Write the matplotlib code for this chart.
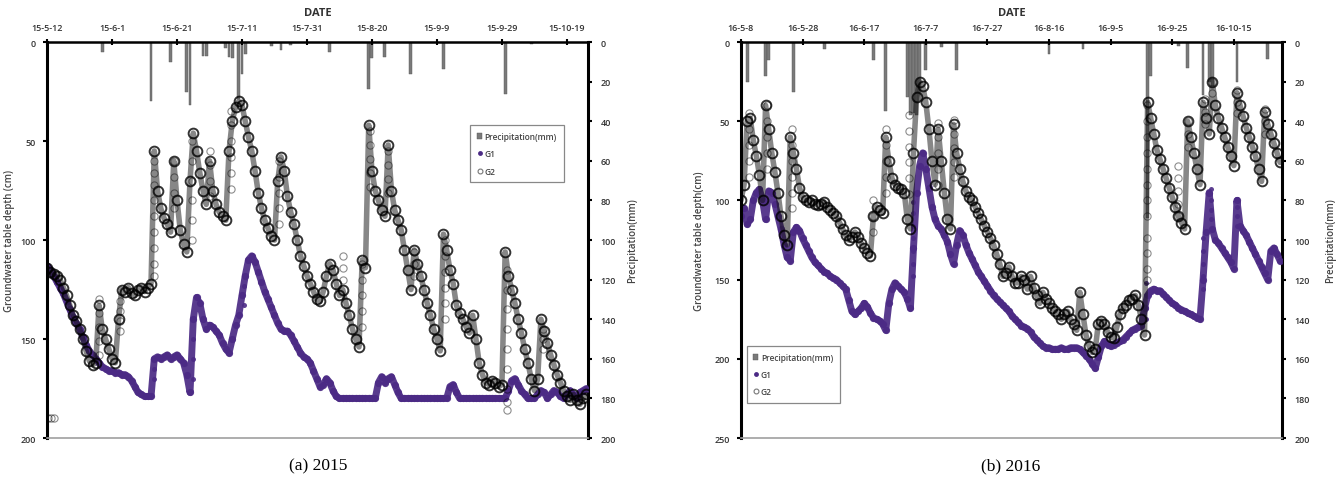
import matplotlib.pyplot as plt
import matplotlib.dates as mdates
from matplotlib.lines import Line2D
from matplotlib.patches import Patch
from matplotlib.ticker import FixedLocator, FuncFormatter
import numpy as np
import pandas as pd

plt.rcParams['font.family'] = ['Open Sans', 'DejaVu Sans']

# ---------------- 2015 (daily readings from 15-5-12) ----------------
START_2015 = '2015-05-12'
END_DAY_2015 = 166.5
G1_2015 = [
    113, 115, 118, 121, 124, 127, 131, 135, 139, 142,
    145, 149, 153, 156, 158, 160, 162, 164, 165, 166,
    166, 167, 167, 168, 168, 169, 171, 174, 177, 178,
    179, 179, 179, 160, 159, 160, 159, 158, 160, 159,
    158, 160, 162, 168, 177, 140, 129, 132, 140, 145,
    143, 144, 146, 148, 152, 155, 157, 150, 143, 138,
    128, 118, 110, 108, 111, 116, 121, 126, 130, 134,
    138, 142, 145, 146, 146, 148, 151, 154, 157, 159,
    160, 162, 166, 170, 174, 173, 170, 172, 176, 179,
    180, 180, 180, 180, 180, 180, 180, 180, 180, 180,
    180, 180, 172, 169, 172, 170, 169, 173, 177, 180,
    180, 180, 180, 180, 180, 180, 180, 180, 180, 180,
    180, 180, 180, 180, 174, 173, 177, 180, 180, 180,
    180, 180, 180, 180, 180, 180, 180, 180, 180, 180,
    180, 180, 176, 171, 170, 173, 176, 178, 180, 180,
    180, 178, 176, 177, 180, 178, 176, 177, 179, 180,
    178, 176, 178, 180, 177, 176, 175,
]
G2_2015 = [
    114, 116, 117, 118, 120, 124, 128, 133, 138, 141,
    145, 150, 156, 161, 163, 162, 133, 145, 150, 155,
    160, 162, 140, 125, 126, 124, 127, 128, 125, 124,
    126, 124, 122, 55, 75, 84, 89, 92, 96, 60,
    80, 95, 102, 106, 70, 46, 55, 66, 75, 82,
    60, 75, 82, 86, 88, 90, 55, 40, 33, 30,
    32, 40, 48, 55, 65, 76, 84, 90, 94, 98,
    100, 70, 58, 65, 78, 86, 92, 100, 108, 113,
    118, 122, 126, 130, 131, 126, 118, 112, 115, 122,
    128, 125, 132, 138, 145, 150, 154, 110, 114, 42,
    65, 75, 80, 85, 88, 52, 75, 85, 90, 95,
    105, 115, 125, 105, 112, 118, 125, 132, 138, 145,
    150, 156, 97, 105, 115, 122, 133, 137, 140, 144,
    147, 138, 150, 162, 168, 172, 173, 171, 172, 174,
    173, 106, 118, 125, 132, 140, 147, 155, 162, 170,
    176, 170, 140, 146, 152, 158, 163, 168, 172, 176,
    179, 181, 178, 181, 183, 180, 178,
]
# extra readings during fast water-table rises (day, depths)
G1_2015_RISE_DAY = [33, 45, 60.5]
G1_2015_RISE_CM = [[170, 165], [170, 160, 150], [133, 123]]
G2_2015_RISE_DAY = [16, 22.5, 33, 39, 44.5, 50, 56.5, 71.5, 91, 97, 99.5, 105,
                    113, 122.5, 141.5, 152.5, 0.3, 1.2, 2.1]
G2_2015_RISE_CM = [[130, 137, 144, 151, 158], [131, 136, 141, 146],
                   [60, 66, 72, 80, 88, 96, 104, 112, 118], [60, 68, 76, 84],
                   [50, 60, 70, 80, 90, 100], [55, 62, 70, 78],
                   [35, 42, 50, 58, 66, 74], [60, 68, 76, 84, 92], [108, 114, 120],
                   [112, 120, 128, 136, 144], [45, 52, 59, 66, 73], [55, 62, 69, 76],
                   [106, 112, 118], [100, 108, 116, 124, 132, 140],
                   [115, 125, 135, 145, 155, 165, 175, 182, 186], [145, 150, 155],
                   [190], [190], [190]]
RAIN_2015_DAY = [17, 32, 38, 43, 44, 48, 49, 55, 56, 57, 59, 60, 61, 69, 72, 75,
                 87, 99, 100, 104, 112, 122, 141, 149]
RAIN_2015_MM = [5, 30, 10, 25, 32, 7, 7, 3, 7.5, 8, 29, 16, 6, 2, 4, 1.5,
                5, 23.5, 8, 7.7, 16, 13.7, 26, 1]

# ---------------- 2016 (daily readings from 16-5-8) ----------------
START_2016 = '2016-05-08'
END_DAY_2016 = 175.6
G1_2016 = [
    110, 105, 115, 112, 100, 95, 93, 100, 112, 94,
    95, 102, 110, 118, 128, 136, 138, 120, 117, 119,
    124, 128, 132, 136, 139, 141, 143, 145, 146, 148,
    149, 150, 152, 154, 156, 163, 170, 172, 170, 168,
    165, 167, 171, 174, 175, 176, 178, 182, 165, 156,
    152, 154, 156, 158, 162, 168, 130, 95, 78, 70,
    80, 92, 104, 112, 116, 118, 122, 126, 134, 140,
    128, 119, 122, 128, 133, 137, 141, 145, 148, 151,
    154, 157, 160, 162, 164, 166, 168, 170, 173, 175,
    177, 179, 180, 181, 183, 186, 188, 190, 192, 193,
    193, 194, 194, 194, 193, 194, 194, 193, 193, 193,
    194, 196, 198, 200, 203, 206, 199, 192, 189, 191,
    192, 191, 190, 189, 188, 186, 184, 182, 181, 180,
    179, 168, 160, 157, 156, 157, 157, 159, 161, 163,
    165, 166, 168, 169, 170, 171, 172, 173, 174, 175,
    150, 120, 95, 118, 125, 127, 130, 133, 136, 139,
    143, 100, 116, 119, 122, 126, 130, 134, 138, 142,
    146, 150, 132, 130, 134, 138,
]
G2_2016 = [
    100, 90, 50, 48, 62, 72, 84, 100, 40, 55,
    70, 82, 95, 110, 122, 128, 60, 70, 80, 92,
    98, 100, 101, 100, 102, 103, 102, 101, 104, 106,
    108, 110, 114, 118, 122, 125, 123, 120, 123, 127,
    130, 133, 135, 110, 104, 106, 108, 60, 75, 86,
    90, 92, 93, 95, 112, 118, 70, 35, 25, 28,
    38, 55, 75, 90, 55, 75, 95, 112, 118, 52,
    70, 80, 88, 94, 98, 100, 104, 108, 112, 116,
    120, 124, 128, 134, 140, 148, 146, 142, 148, 152,
    152, 148, 150, 156, 148, 155, 160, 165, 158, 162,
    165, 168, 170, 172, 175, 172, 170, 175, 178, 182,
    158, 172, 185, 192, 196, 194, 178, 176, 178, 183,
    186, 187, 180, 172, 168, 166, 163, 162, 160, 166,
    175, 185, 38, 48, 58, 68, 74, 80, 86, 92,
    98, 104, 110, 114, 118, 50, 60, 70, 80, 90,
    38, 48, 58, 25, 40, 48, 54, 60, 66, 72,
    78, 32, 40, 47, 54, 60, 66, 72, 80, 88,
    44, 52, 58, 64, 70, 76,
]
G1_2016_RISE_DAY = [56, 131.5, 150, 152.5, 161]
G1_2016_RISE_CM = [[148, 140, 132, 124, 116, 108, 101], [175, 168, 160, 152],
                   [156, 148, 140, 132, 124], [93, 100, 106, 112, 118],
                   [99, 104, 110, 116]]
G2_2016_RISE_DAY = [2.5, 8.4, 16.5, 43, 47, 54.5, 64, 69, 131.8, 142, 145,
                    150.5, 153, 161, 170]
G2_2016_RISE_CM = [[45, 55, 65, 75, 85], [40, 50, 60, 70, 80], [55, 65, 75, 85, 95, 105],
                   [100, 110, 120], [55, 65, 75, 85, 95], [46, 56, 66, 76, 86, 96],
                   [51, 60, 70, 80, 90], [49, 58, 67, 76, 85],
                   [40, 50, 60, 70, 80, 90, 100, 110, 124, 133, 143, 150],
                   [78, 86, 94, 102, 110], [50, 58, 66], [36, 44, 52], [25, 32],
                   [30, 38, 45], [42, 50, 58]]
RAIN_2016_DAY = [2, 8, 9, 17, 27, 43, 47, 54, 55, 56, 57, 58, 60, 65, 70,
                 100, 111, 132, 133, 142, 145, 150, 152, 153, 161, 171]
RAIN_2016_MM = [20, 17, 9, 25, 3.5, 9, 35, 28, 37, 36, 37, 30, 14, 2.5, 14,
                6, 3.5, 89, 17, 2, 13, 27, 20, 22, 20, 8.6]

PURPLE = '#4b2a85'
RAIN_COL = '#7a7a7a'
TXT = '#333333'


def flat(days, vals):
    xs, ys = [], []
    for d, v in zip(days, vals):
        xs += [d] * len(v)
        ys += v
    return np.array(xs, float), np.array(ys, float)


def panel(fig, rect, start, end_day, g1, g2, g1_rise, g2_rise, rain_day, rain_mm,
          ymax, yticks, ylabel, ylab_x, rlab_x, leg_anchor, caption, cap_x):
    x0 = mdates.date2num(pd.Timestamp(start))
    ax2 = fig.add_axes(rect)
    ax = ax2.twinx()
    ax.xaxis.set_visible(True)
    # groundwater axis (left) on top, precipitation axis (right) behind
    ax.yaxis.tick_left()
    ax.yaxis.set_label_position('left')
    ax2.yaxis.tick_right()
    ax2.yaxis.set_label_position('right')

    ax2.bar(x0 + np.array(rain_day), rain_mm, width=0.9, color=RAIN_COL,
            edgecolor='#555555', linewidth=0.3, zorder=2)
    ax2.set_ylim(200, 0)
    ax2.set_yticks(np.arange(0, 201, 20))

    days = np.arange(len(g2))
    # G1: thick purple band
    ax.plot(x0 + days, g1, ls='-', lw=5.0, marker='o', ms=5.2, color=PURPLE,
            alpha=0.92, mew=0, solid_capstyle='round', solid_joinstyle='round')
    rx, ry = flat(*g1_rise)
    ax.plot(x0 + rx, ry, ls='none', marker='o', ms=3.6, color=PURPLE, alpha=0.9, mew=0)
    # G2: dense chain of open circles
    gx, gy = flat(*g2_rise)
    ax.plot(x0 + gx, gy, ls='none', marker='o', ms=5.2, mfc='none', mec='black',
            mew=0.8, alpha=0.45)
    ax.plot(x0 + days, g2, ls='-', lw=4.0, color='#111111', alpha=0.5,
            solid_capstyle='round', solid_joinstyle='round')
    ax.plot(x0 + days, g2, ls='none', marker='o', ms=7.0, mfc='none', mec='black',
            mew=1.4, alpha=0.8)
    ax.set_ylim(ymax, 0)
    ax.set_yticks(yticks)

    ax.set_xlim(x0, x0 + end_day)
    ticks = x0 + np.arange(0, end_day, 20)
    ax.xaxis.set_major_locator(FixedLocator(ticks))
    ax.xaxis.set_major_formatter(FuncFormatter(
        lambda v, p: (lambda d: f'{d.year % 100}-{d.month}-{d.day}')(mdates.num2date(v))))
    ax2.xaxis.set_visible(False)
    ax.xaxis.tick_top()
    ax.xaxis.set_label_position('top')
    ax.set_xlabel('DATE', fontsize=8, fontweight='bold', color=TXT, labelpad=6)

    for sp in ('left', 'top', 'bottom', 'right'):
        ax2.spines[sp].set_visible(sp == 'right')
        ax.spines[sp].set_visible(sp != 'right')
    ax2.spines['right'].set_linewidth(2.2)
    ax.spines['left'].set_linewidth(2.2)
    ax.spines['top'].set_linewidth(1.8)
    ax.spines['bottom'].set_color('#a0a0a0')
    ax.spines['bottom'].set_linewidth(1.2)

    ax.tick_params(axis='x', direction='inout', length=4, width=1.5, pad=5,
                   labelsize=6.5, labelcolor=TXT)
    ax.tick_params(axis='y', direction='out', length=3, width=1.5, pad=5,
                   labelsize=6.5, labelcolor=TXT)
    ax2.tick_params(axis='y', direction='out', length=3, width=1.5, pad=6,
                    labelsize=6.5, labelcolor=TXT)
    for lab in ax.get_xticklabels() + ax.get_yticklabels() + ax2.get_yticklabels():
        lab.set_fontweight('semibold')

    ax.set_ylabel(ylabel, fontsize=7, fontweight='semibold', color='#444444')
    ax.yaxis.set_label_coords(ylab_x, 0.5)
    ax2.set_ylabel('Precipitation(mm)', fontsize=7, fontweight='semibold', color='#444444')
    ax2.yaxis.set_label_coords(rlab_x, 0.5)

    handles = [Patch(facecolor=RAIN_COL, edgecolor='#555555', linewidth=0.3),
               Line2D([], [], ls='none', marker='o', ms=3.5, color=PURPLE, mew=0),
               Line2D([], [], ls='none', marker='o', ms=3.5, mfc='none', mec='#777777', mew=0.8)]
    leg = ax.legend(handles, ['Precipitation(mm)', 'G1', 'G2'], loc='lower left',
                    bbox_to_anchor=leg_anchor, fontsize=6, handlelength=0.6,
                    handletextpad=0.3, labelspacing=1.0, borderpad=0.8,
                    fancybox=False, framealpha=1, edgecolor='#888888')
    leg.get_frame().set_linewidth(0.9)
    for t in leg.get_texts():
        t.set_fontweight('semibold')
        t.set_color('#444444')

    fig.text(cap_x, 0.047, caption, ha='center', va='center', fontsize=12.5,
             family='Liberation Serif')


fig = plt.figure(figsize=(13.37, 4.89), dpi=100)
panel(fig, [0.0352, 0.1022, 0.4046, 0.8098], START_2015, END_DAY_2015,
      G1_2015, G2_2015, (G1_2015_RISE_DAY, G1_2015_RISE_CM),
      (G2_2015_RISE_DAY, G2_2015_RISE_CM), RAIN_2015_DAY, RAIN_2015_MM,
      200, [0, 50, 100, 150, 200], 'Groundwater table depth (cm)', -0.06, 1.072,
      (0.775, 0.635), '(a) 2015', 0.238)
panel(fig, [0.5542, 0.1022, 0.4046, 0.8098], START_2016, END_DAY_2016,
      G1_2016, G2_2016, (G1_2016_RISE_DAY, G1_2016_RISE_CM),
      (G2_2016_RISE_DAY, G2_2016_RISE_CM), RAIN_2016_DAY, RAIN_2016_MM,
      250, [0, 50, 100, 150, 200, 250], 'Groundwater table depth(cm)', -0.066, 1.08,
      (0.003, 0.078), '(b) 2016', 0.756)

fig.savefig('out.png', dpi=100)
